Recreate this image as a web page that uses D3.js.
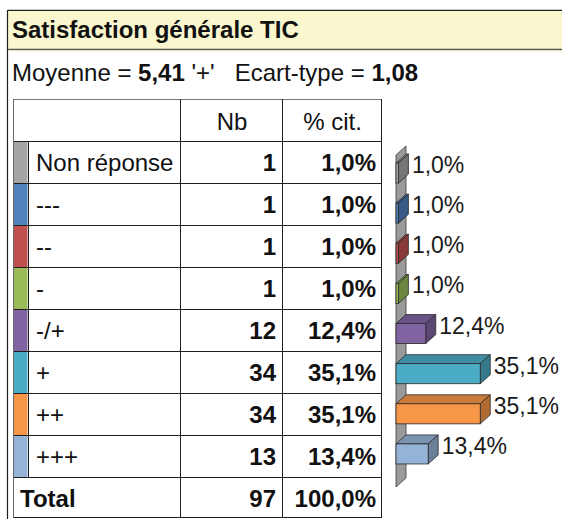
<!DOCTYPE html>
<html>
<head>
<meta charset="utf-8">
<script src="https://cdnjs.cloudflare.com/ajax/libs/d3/7.8.5/d3.min.js"></script>
<style>
	body{margin:0;padding:0;background:#ffffff;}
	#chart svg{display:block;font-family:"Liberation Sans", Arial, sans-serif;}
	.stats{white-space:pre;}
</style>
</head>
<body>
<div id="chart"></div>
<script>
var TITLE = "Satisfaction générale TIC";
var CATEGORIES = ["Non réponse", "---", "--", "-", "-/+", "+", "++", "+++"];
var COUNTS = [1, 1, 1, 1, 12, 34, 34, 13];
var PERCENTS = [1.0, 1.0, 1.0, 1.0, 12.4, 35.1, 35.1, 13.4];
var COLORS = ["#A5A5A5", "#4F81BD", "#C0504D", "#9BBB59", "#8064A2", "#4BACC6", "#F79646", "#95B3D7"];
var HEADERS = ["Nb", "% cit."];
var TOTAL_LABEL = "Total";
var TOTAL_NB = 97;
var TOTAL_PCT = 100.0;
var MEAN = 5.41;
var MEAN_LABEL = "'+'";
var STD_DEV = 1.08;

(function(){

	var W = 562, H = 519;
	var FS = "24px";
	var svg = d3.select("#chart").append("svg").attr("width", W).attr("height", H);

	var fr = d3.formatLocale({decimal:",", thousands:"\u00a0", grouping:[3], currency:["", "\u00a0€"]});
	var formats = {};
		formats.num = fr.format("d");
		formats.dec2 = fr.format(".2f");
		formats.pct = function(d){return fr.format(".1f")(d) + "%"};

	var rows = CATEGORIES.map(function(c, i){
		return {cat:c, nb:COUNTS[i], pct:PERCENTS[i], color:COLORS[i]};
	});

	//FRAME + TITLE
	svg.append("rect").attr("x", 8).attr("y", 11).attr("width", W - 8).attr("height", 38).attr("fill", "#FAF7CE");
	svg.append("path").attr("d", "M8,9.5 H" + W).attr("stroke", "#c8c8c8").attr("fill", "none");
	svg.append("path").attr("d", "M7.5," + H + " V10.5 H" + W).attr("fill", "none").attr("stroke", "#1e1e1e").attr("stroke-width", 1.2);
	svg.append("path").attr("d", "M8,49.5 H" + W).attr("stroke", "#56564c").attr("stroke-width", 1.6);
	svg.append("path").attr("d", "M8,51 H" + W).attr("stroke", "#f4f1d8").attr("stroke-width", 1);

	svg.append("text").attr("x", 12).attr("y", 38)
		.style("font-size", FS).style("font-weight", "bold").attr("fill", "#111")
		.text(TITLE);

	var st = svg.append("text").attr("class", "stats").attr("x", 12).attr("y", 81)
		.style("font-size", FS).attr("fill", "#111");
	var parts = [
		["Moyenne = ", false], [formats.dec2(MEAN), true], [" " + MEAN_LABEL + "   Ecart-type = ", false], [formats.dec2(STD_DEV), true]
	];
	st.selectAll("tspan").data(parts).enter().append("tspan")
		.style("font-weight", function(d){return d[1] ? "bold" : "normal"})
		.text(function(d){return d[0]});

	//TABLE
	var colX = [13, 27.5, 180, 282, 381];
	var headTop = 99, rowTop = 141, rowH = 42;
	var y = d3.scaleBand().domain(CATEGORIES).range([rowTop, rowTop + rowH * CATEGORIES.length]);
	var totalTop = y.range()[1], totalBottom = 517;

	var tbl = svg.append("g").attr("class", "table");

	tbl.selectAll("rect.swatch").data(rows).enter().append("rect")
		.attr("class", "swatch")
		.attr("x", colX[0] + 0.5).attr("width", colX[1] - colX[0] - 0.5)
		.attr("y", function(d){return y(d.cat)})
		.attr("height", y.bandwidth())
		.attr("fill", function(d){return d.color});

	var hLines = [headTop, rowTop].concat(CATEGORIES.map(function(c){return y(c) + y.bandwidth()}), [totalBottom]);
	tbl.selectAll("path.h").data(hLines).enter().append("path")
		.attr("class", "h")
		.attr("d", function(d){return "M" + colX[0] + "," + (Math.round(d) + 0.5) + " H" + (colX[4] + 0.5)})
		.attr("stroke", function(d, i){return i === 0 ? "#7a7a7a" : "#1e1e1e"})
		.attr("stroke-width", function(d, i){return i === 0 ? 1 : 1.3})
		.style("shape-rendering", "crispEdges");

	var vLines = [
		{x:colX[0], y0:headTop, y1:totalBottom, c:"#6a6a6a"},
		{x:colX[1], y0:rowTop, y1:totalTop, c:"#1e1e1e"},
		{x:colX[2], y0:headTop, y1:totalBottom, c:"#1e1e1e"},
		{x:colX[3], y0:headTop, y1:totalBottom, c:"#1e1e1e"},
		{x:colX[4], y0:headTop, y1:totalBottom, c:"#1e1e1e"}
	];
	tbl.selectAll("path.v").data(vLines).enter().append("path")
		.attr("class", "v")
		.attr("d", function(d){return "M" + (Math.round(d.x) + 0.5) + "," + d.y0 + " V" + (d.y1 + 0.5)})
		.attr("stroke", function(d){return d.c})
		.attr("stroke-width", 1.3)
		.style("shape-rendering", "crispEdges");

	tbl.selectAll("text.head").data(HEADERS).enter().append("text")
		.attr("class", "head")
		.attr("x", function(d, i){return (colX[i + 2] + colX[i + 3]) / 2 + 1})
		.attr("y", 130)
		.attr("text-anchor", "middle")
		.style("font-size", FS).attr("fill", "#111")
		.text(function(d){return d});

	var cells = tbl.selectAll("g.row").data(rows).enter().append("g")
		.attr("class", "row")
		.attr("transform", function(d){return "translate(0," + (y(d.cat) + rowH / 2 + 9) + ")"});

	var cellText = cells.selectAll("text").data(function(d){
		return [
			{t:d.cat, x:36, a:"start", b:false},
			{t:formats.num(d.nb), x:276, a:"end", b:true},
			{t:formats.pct(d.pct), x:376, a:"end", b:true}
		];
	});
	cellText.enter().append("text")
		.attr("x", function(d){return d.x})
		.attr("text-anchor", function(d){return d.a})
		.style("font-size", FS)
		.style("font-weight", function(d){return d.b ? "bold" : "normal"})
		.attr("fill", "#111")
		.text(function(d){return d.t});

	var tot = tbl.append("g").attr("transform", "translate(0," + ((totalTop + totalBottom) / 2 + 9.5) + ")");
	tot.selectAll("text").data([
		{t:TOTAL_LABEL, x:20, a:"start"},
		{t:formats.num(TOTAL_NB), x:276, a:"end"},
		{t:formats.pct(TOTAL_PCT), x:376, a:"end"}
	]).enter().append("text")
		.attr("x", function(d){return d.x})
		.attr("text-anchor", function(d){return d.a})
		.style("font-size", FS).style("font-weight", "bold").attr("fill", "#111")
		.text(function(d){return d.t});

	//BARS (pseudo 3D)
	var dx = 10, dy = -9;
	var x = d3.scaleLinear().domain([0, 40]).range([396, 492]);
	var yb = d3.scaleBand().domain(CATEGORIES).range([153, 474]).paddingInner(0.5).paddingOuter(0.25);
	var bw = yb.bandwidth();
	var x0 = x(0);

	var plot = svg.append("g").attr("class", "bars");

	var wallTop = yb.range()[0] + 2, wallBottom = yb.range()[1] + 13;
	plot.append("path")
		.attr("d", "M" + x0 + "," + wallBottom + " L" + (x0 + dx) + "," + (wallBottom + dy) +
			" L" + (x0 + dx) + "," + (wallTop + dy) + " L" + x0 + "," + wallTop + "Z")
		.attr("fill", "#9a9a9a").attr("stroke", "#3a3a3a").attr("stroke-width", 0.8);

	var bar = plot.selectAll("g.bar").data(rows).enter().append("g").attr("class", "bar");

	bar.append("path")
		.attr("d", function(d){
			var x1 = x(d.pct), t = yb(d.cat);
			return "M" + x0 + "," + t + " L" + (x0 + dx) + "," + (t + dy) + " L" + (x1 + dx) + "," + (t + dy) + " L" + x1 + "," + t + "Z";
		})
		.attr("fill", function(d){return d3.color(d.color).darker(0.55)})
		.attr("stroke", "#2a2a2a").attr("stroke-width", 0.8).attr("stroke-linejoin", "round");

	bar.append("path")
		.attr("d", function(d){
			var x1 = x(d.pct), t = yb(d.cat), b = t + bw;
			return "M" + x1 + "," + t + " L" + (x1 + dx) + "," + (t + dy) + " L" + (x1 + dx) + "," + (b + dy) + " L" + x1 + "," + b + "Z";
		})
		.attr("fill", function(d){return d3.color(d.color).darker(0.95)})
		.attr("stroke", "#2a2a2a").attr("stroke-width", 0.8).attr("stroke-linejoin", "round");

	bar.append("rect")
		.attr("x", x0)
		.attr("y", function(d){return yb(d.cat)})
		.attr("width", function(d){return x(d.pct) - x0})
		.attr("height", bw)
		.attr("fill", function(d){return d.color})
		.attr("stroke", "#2a2a2a").attr("stroke-width", 0.8);

	bar.append("text")
		.attr("x", function(d){return x(d.pct) + dx + 3.5})
		.attr("y", function(d){return yb(d.cat) + bw / 2})
		.style("font-size", "23px").attr("fill", "#1a1a1a")
		.text(function(d){return formats.pct(d.pct)});

})();
</script>
</body>
</html>
